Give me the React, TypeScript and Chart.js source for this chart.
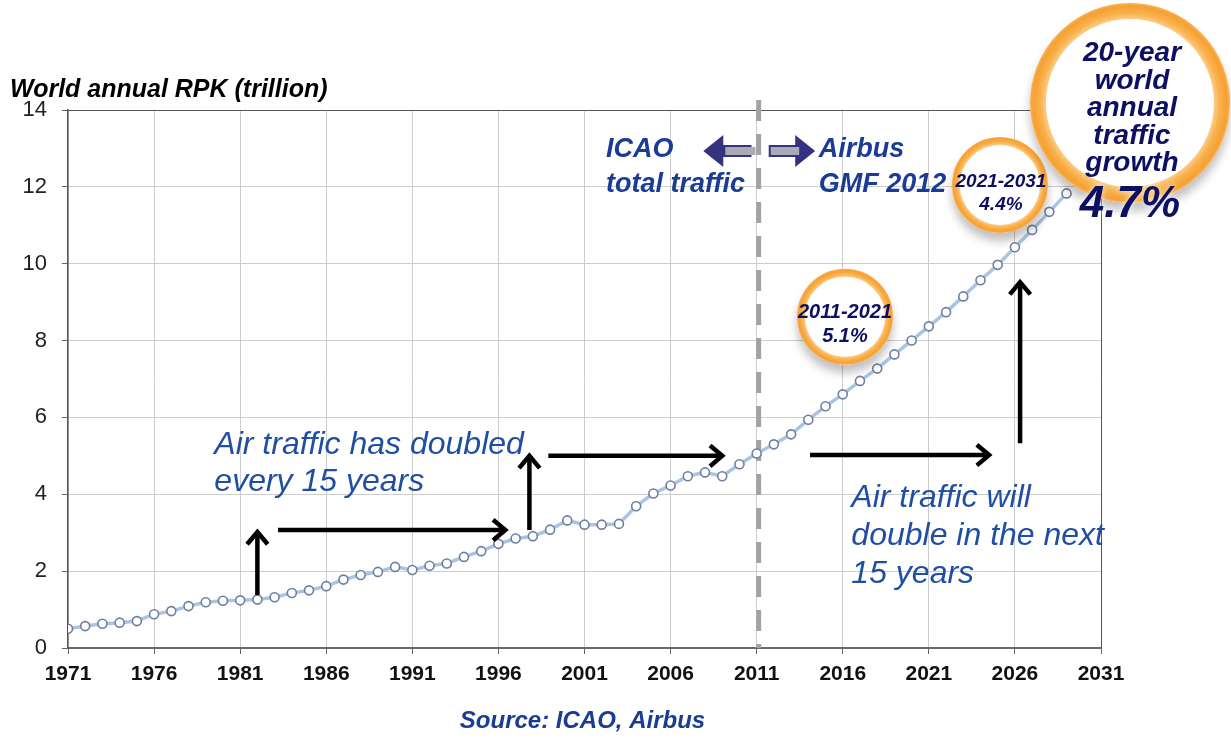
import React, { useEffect, useRef } from "react";
import { Chart, registerables } from "chart.js";

Chart.register(...registerables);

const years = [
  1971, 1972, 1973, 1974, 1975, 1976, 1977, 1978, 1979, 1980,
  1981, 1982, 1983, 1984, 1985, 1986, 1987, 1988, 1989, 1990,
  1991, 1992, 1993, 1994, 1995, 1996, 1997, 1998, 1999, 2000,
  2001, 2002, 2003, 2004, 2005, 2006, 2007, 2008, 2009, 2010,
  2011, 2012, 2013, 2014, 2015, 2016, 2017, 2018, 2019, 2020,
  2021, 2022, 2023, 2024, 2025, 2026, 2027, 2028, 2029,
];

const rpk = [
  0.5, 0.57, 0.63, 0.66, 0.7, 0.88, 0.96, 1.09, 1.19, 1.23,
  1.24, 1.26, 1.32, 1.43, 1.5, 1.61, 1.78, 1.9, 1.98, 2.11,
  2.03, 2.14, 2.2, 2.37, 2.52, 2.71, 2.85, 2.91, 3.08, 3.32,
  3.21, 3.21, 3.23, 3.69, 4.02, 4.23, 4.47, 4.57, 4.47, 4.78,
  5.06, 5.3, 5.56, 5.94, 6.29, 6.6, 6.95, 7.27, 7.64, 8.0,
  8.37, 8.74, 9.15, 9.57, 9.97, 10.43, 10.88, 11.35, 11.83,
];

const xTickValues = [1971, 1976, 1981, 1986, 1991, 1996, 2001, 2006, 2011, 2016, 2021, 2026, 2031];
const yTickValues = [0, 2, 4, 6, 8, 10, 12, 14];

const yAxisTitle = "World annual RPK (trillion)";
const sourceText = "Source: ICAO, Airbus";
const forecastStartYear = 2011;
const leftNote = ["Air traffic has doubled", "every 15 years"];
const rightNote = ["Air traffic will", "double in the next", "15 years"];
const icaoLabel = ["ICAO", "total traffic"];
const airbusLabel = ["Airbus", "GMF 2012"];
const ring1Text = ["2011-2021", "5.1%"];
const ring2Text = ["2021-2031", "4.4%"];
const bigRingText = ["20-year", "world", "annual", "traffic", "growth"];
const bigRingValue = "4.7%";

const FONT = '"Liberation Sans", Arial, sans-serif';
const NAVY = "#0d0f62";
const BLUE = "#1f4ea3";
const DEEPBLUE = "#1b3c96";

function ring(ctx: CanvasRenderingContext2D, cx: number, cy: number, r: number, th: number) {
  ctx.save();
  ctx.shadowColor = "rgba(0,0,0,0.25)";
  ctx.shadowBlur = 10;
  ctx.shadowOffsetY = 8;
  ctx.beginPath();
  ctx.arc(cx, cy, r, 0, Math.PI * 2);
  ctx.fillStyle = "#ffffff";
  ctx.fill();
  ctx.restore();
  ctx.save();
  const g = ctx.createRadialGradient(cx, cy, r - th, cx, cy, r);
  g.addColorStop(0, "#fbcd88");
  g.addColorStop(0.35, "#f9b24e");
  g.addColorStop(0.8, "#f6a032");
  g.addColorStop(1, "#f8b357");
  ctx.beginPath();
  ctx.arc(cx, cy, r - th / 2, 0, Math.PI * 2);
  ctx.strokeStyle = g;
  ctx.lineWidth = th;
  ctx.stroke();
  ctx.restore();
}

function arrow(ctx: CanvasRenderingContext2D, x1: number, y1: number, x2: number, y2: number) {
  const ang = Math.atan2(y2 - y1, x2 - x1);
  const hl = 16;
  const ha = 0.7;
  ctx.save();
  ctx.strokeStyle = "#000";
  ctx.lineWidth = 4.5;
  ctx.lineCap = "butt";
  ctx.lineJoin = "miter";
  ctx.beginPath();
  ctx.moveTo(x1, y1);
  ctx.lineTo(x2 - Math.cos(ang) * 2, y2 - Math.sin(ang) * 2);
  ctx.stroke();
  ctx.beginPath();
  ctx.moveTo(x2 - hl * Math.cos(ang - ha), y2 - hl * Math.sin(ang - ha));
  ctx.lineTo(x2, y2);
  ctx.lineTo(x2 - hl * Math.cos(ang + ha), y2 - hl * Math.sin(ang + ha));
  ctx.stroke();
  ctx.restore();
}

function blockArrow(ctx: CanvasRenderingContext2D, tail: number, tip: number, cy: number) {
  const dir = Math.sign(tip - tail);
  const headLen = 20;
  const hh = 16;
  const sh = 6;
  const base = tip - dir * headLen;
  ctx.save();
  ctx.beginPath();
  ctx.moveTo(tail, cy - sh);
  ctx.lineTo(base, cy - sh);
  ctx.lineTo(base, cy - hh);
  ctx.lineTo(tip, cy);
  ctx.lineTo(base, cy + hh);
  ctx.lineTo(base, cy + sh);
  ctx.lineTo(tail, cy + sh);
  ctx.closePath();
  ctx.fillStyle = "#35337f";
  ctx.fill();
  ctx.beginPath();
  ctx.rect(Math.min(tail, base) + 2, cy - sh + 2, Math.abs(base - tail) + 2, (sh - 2) * 2);
  ctx.fillStyle = "#a9a9b8";
  ctx.fill();
  ctx.restore();
}

const annotationPlugin = {
  id: "annotations",
  beforeDatasetsDraw(chart: any) {
    const { ctx, chartArea: a, scales } = chart;
    const xs = scales.x;
    ctx.save();
    ctx.strokeStyle = "#555";
    ctx.lineWidth = 1;
    ctx.beginPath();
    ctx.moveTo(a.left, a.top + 0.5);
    ctx.lineTo(a.right + 0.5, a.top + 0.5);
    ctx.lineTo(a.right + 0.5, a.bottom);
    ctx.stroke();
    const dx = xs.getPixelForValue(forecastStartYear) + 2;
    ctx.strokeStyle = "#a3a3a3";
    ctx.lineWidth = 5;
    ctx.setLineDash([21, 13]);
    ctx.beginPath();
    ctx.moveTo(dx, a.top - 10);
    ctx.lineTo(dx, a.bottom);
    ctx.stroke();
    ctx.restore();
  },
  afterDatasetsDraw(chart: any) {
    const { ctx, chartArea: a, scales } = chart;
    const X = (v: number) => scales.x.getPixelForValue(v);
    const Y = (v: number) => scales.y.getPixelForValue(v);

    ctx.save();
    ctx.fillStyle = "#000";
    ctx.font = `italic bold 25px ${FONT}`;
    ctx.textAlign = "left";
    ctx.textBaseline = "alphabetic";
    ctx.fillText(yAxisTitle, 10, a.top - 13);

    ctx.fillStyle = DEEPBLUE;
    ctx.font = `italic bold 24px ${FONT}`;
    ctx.textAlign = "center";
    ctx.fillText(sourceText, X(2001) - 2, 728);
    ctx.restore();

    arrow(ctx, X(1982), Y(1.38), X(1982), Y(3.02));
    arrow(ctx, X(1983.2), Y(3.07), X(1996.4), Y(3.07));
    arrow(ctx, X(1997.8), Y(3.07), X(1997.8), Y(5.0));
    arrow(ctx, X(1998.9), Y(5.0), X(2009.0), Y(5.0));
    arrow(ctx, X(2014.1), Y(5.02), X(2024.5), Y(5.02));
    arrow(ctx, X(2026.3), Y(5.33), X(2026.3), Y(9.52));

    ctx.save();
    ctx.fillStyle = BLUE;
    ctx.font = `italic 32px ${FONT}`;
    ctx.textAlign = "left";
    leftNote.forEach((t, i) => ctx.fillText(t, X(1979.5), 454 + i * 37));
    rightNote.forEach((t, i) => ctx.fillText(t, X(2016.5), 507 + i * 38));

    ctx.fillStyle = DEEPBLUE;
    ctx.font = `italic bold 27px ${FONT}`;
    icaoLabel.forEach((t, i) => ctx.fillText(t, X(2002.25), 157 + i * 35));
    airbusLabel.forEach((t, i) => ctx.fillText(t, X(2014.6), 157 + i * 35));
    ctx.restore();

    blockArrow(ctx, X(2010.7), X(2007.9), 151);
    blockArrow(ctx, X(2011.7), X(2014.4), 151);

    const r1x = X(2016.13), r1y = Y(8.62);
    ring(ctx, r1x, r1y, 48, 8);
    const r2x = X(2025.13), r2y = Y(12.05);
    ring(ctx, r2x, r2y, 48, 8);
    const bx = 1130, by = 103;
    ring(ctx, bx, by, 100, 16);

    ctx.save();
    ctx.fillStyle = NAVY;
    ctx.textAlign = "center";
    ctx.font = `italic bold 20px ${FONT}`;
    ctx.fillText(ring1Text[0], r1x, r1y + 1);
    ctx.fillText(ring1Text[1], r1x, r1y + 25);
    ctx.font = `italic bold 19px ${FONT}`;
    ctx.fillText(ring2Text[0], r2x + 1, r2y + 2);
    ctx.fillText(ring2Text[1], r2x + 1, r2y + 25);
    ctx.font = `italic bold 28px ${FONT}`;
    bigRingText.forEach((t, i) => ctx.fillText(t, bx + 2, 61 + i * 27.5));
    ctx.shadowColor = "rgba(255,255,255,0.9)";
    ctx.shadowBlur = 6;
    ctx.font = `italic bold 44px ${FONT}`;
    ctx.fillText(bigRingValue, bx, 217);
    ctx.restore();
  },
};

export default function App() {
  const ref = useRef<HTMLCanvasElement>(null);

  useEffect(() => {
    document.body.style.margin = "0";
    const canvas = ref.current!;
    const chart = new Chart(canvas, {
      type: "line",
      data: {
        datasets: [
          {
            data: years.map((y, i) => ({ x: y, y: rpk[i] })),
            borderColor: "#a9c5e6",
            borderWidth: 3.5,
            pointRadius: 4.5,
            pointBorderWidth: 1.6,
            pointBorderColor: "#6f7e9c",
            pointBackgroundColor: "#ffffff",
            tension: 0,
          },
        ],
      },
      options: {
        responsive: false,
        animation: false,
        devicePixelRatio: 1,
        layout: { padding: { left: 8, top: 110, right: 130, bottom: 42 } },
        plugins: { legend: { display: false }, tooltip: { enabled: false }, title: { display: false } },
        scales: {
          x: {
            type: "linear",
            min: 1971,
            max: 2031,
            afterBuildTicks: (s: any) => {
              s.ticks = xTickValues.map((v) => ({ value: v }));
            },
            afterFit: (s: any) => {
              s.height = 60;
            },
            grid: { color: "#cdcdcd", lineWidth: 1, tickLength: 6, tickColor: "#666" },
            border: { display: true, color: "#6a6a6a", width: 2 },
            ticks: {
              autoSkip: false,
              maxRotation: 0,
              padding: 8,
              color: "#111",
              font: { family: FONT, size: 21, weight: "bold" },
              callback: (v: any) => String(v),
            },
          },
          y: {
            type: "linear",
            min: 0,
            max: 14,
            afterBuildTicks: (s: any) => {
              s.ticks = yTickValues.map((v) => ({ value: v }));
            },
            afterFit: (s: any) => {
              s.width = 60;
            },
            grid: { color: "#cdcdcd", lineWidth: 1, tickLength: 6, tickColor: "#666" },
            border: { display: true, color: "#555", width: 1.5 },
            ticks: {
              padding: 15,
              color: "#222",
              font: { family: FONT, size: 22 },
            },
          },
        },
      },
      plugins: [annotationPlugin],
    });
    return () => chart.destroy();
  }, []);

  return (
    <div style={{ width: 1231, height: 750, background: "#fff" }}>
      <canvas ref={ref} width={1231} height={750} style={{ display: "block" }} />
    </div>
  );
}
